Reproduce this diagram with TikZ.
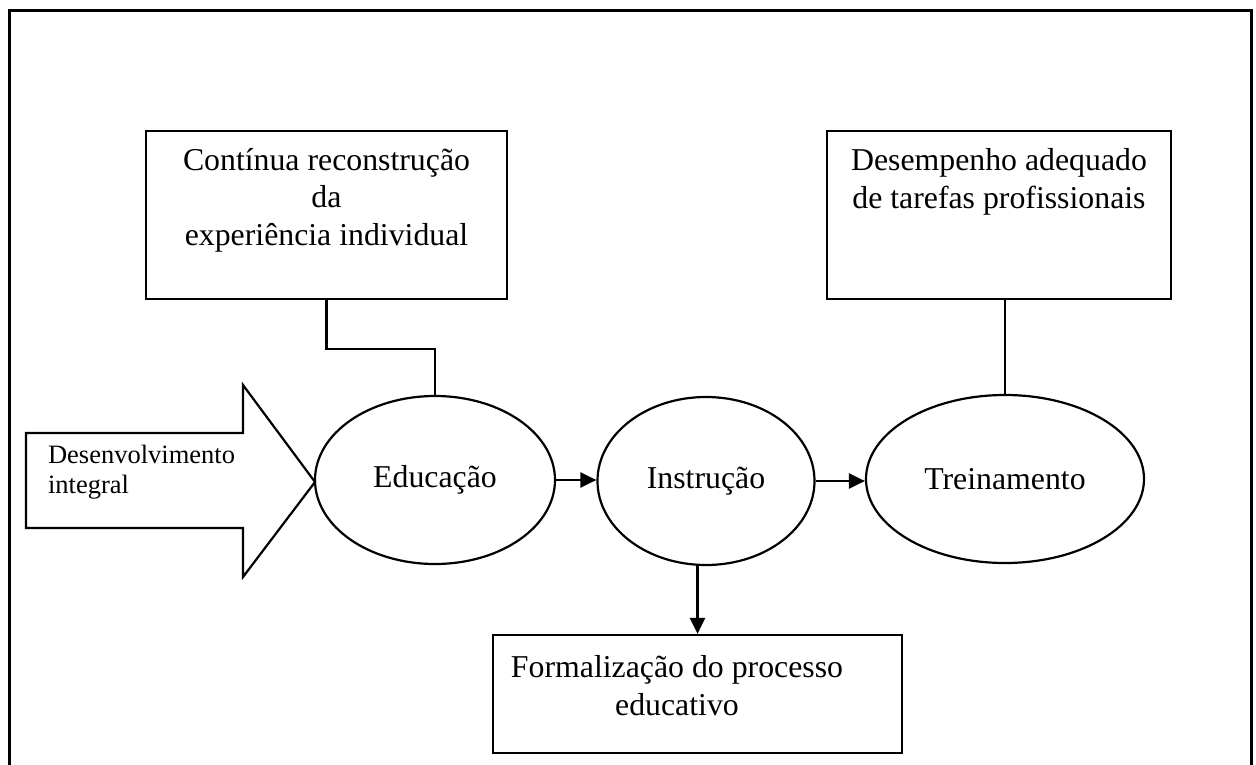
\documentclass[tikz,border=0pt]{standalone}
\usepackage{fontspec}
\setmainfont{Liberation Serif}
\usetikzlibrary{arrows.meta,shapes.geometric}
\begin{document}
\begin{tikzpicture}[x=1pt,y=-1pt,line width=2.2pt,
  bigfont/.style={font=\fontsize{31.8}{37.5}\selectfont},
  smallfont/.style={font=\fontsize{26.5}{29.5}\selectfont},
  ell/.style={draw,ellipse,inner sep=0pt,minimum height=168pt,bigfont},
  boxnode/.style={draw,rectangle,inner sep=0pt},
  txt/.style={inner sep=0pt,align=center,anchor=base},
  arr/.style={-{Triangle[length=16pt,width=15pt]},line width=2.6pt}]
\useasboundingbox (0,0) rectangle (1256,765);
% outer frame
\draw[line width=3pt] (9,800) -- (9,11) -- (1251,11) -- (1251,800);
% ellipses
\node[ell,minimum width=240pt] (edu) at (435,480) {Educação};
\node[ell,minimum width=217pt] (ins) at (706,481) {Instrução};
\node[ell,minimum width=278pt] (tre) at (1005,479) {Treinamento};
% boxes (text node anchored at the baseline of its last line)
\node[boxnode,minimum width=361pt,minimum height=168pt] (b1) at (326.5,215) {};
\node[txt,bigfont] (t1) at (326.5,245) {Contínua reconstrução\\da\\experiência individual};
\node[boxnode,minimum width=344pt,minimum height=168pt] (b2) at (999,215) {};
\node[txt,bigfont] (t2) at (999,208) {Desempenho adequado\\de tarefas profissionais};
\node[boxnode,minimum width=409pt,minimum height=118pt] (b3) at (697.5,694) {};
\node[txt,bigfont] (t3) at (677,715) {Formalização do processo\\educativo};
% big arrow
\draw (26,433) -- (243,433) -- (243,385) -- (315,482) -- (243,577) -- (243,528) -- (26,528) -- cycle;
\node[inner sep=0pt,align=left,anchor=base west,smallfont] (dev) at (47,493) {Desenvolvimento\\integral};
% connectors
\draw (b1.south) -- ++(0,49) -| (edu.north);
\draw (tre.north |- b2.south) -- (tre.north);
\draw[arr] (edu.east) -- (edu.east -| ins.west);
\draw[arr] (ins.east) -- (ins.east -| tre.west);
\draw[arr] (ins.south -| b3.north) -- (b3.north);
\end{tikzpicture}
\end{document}
